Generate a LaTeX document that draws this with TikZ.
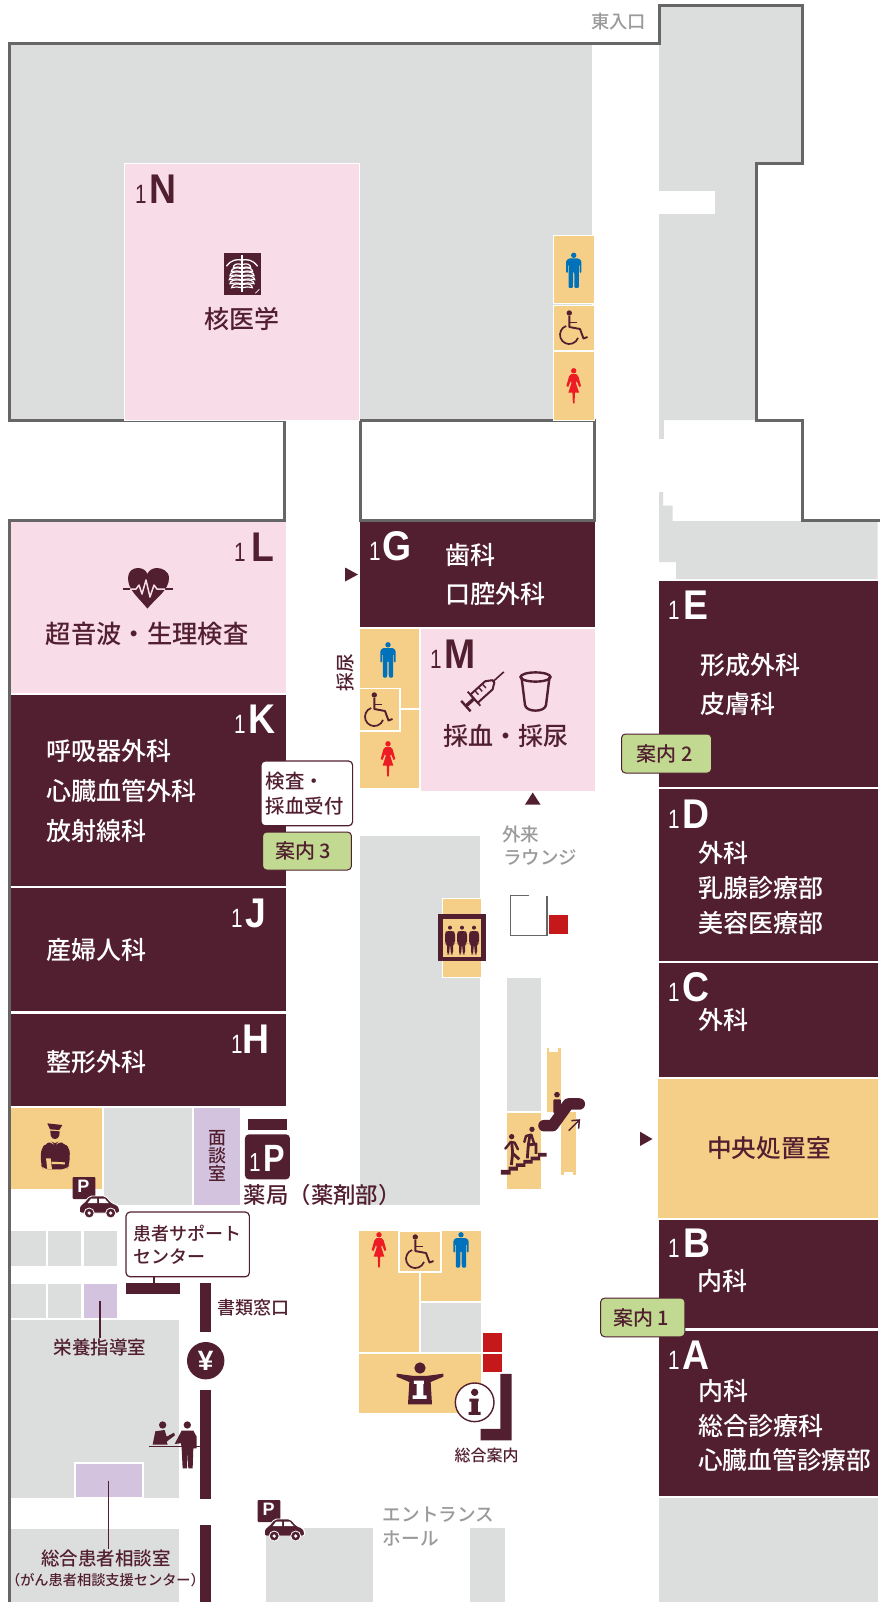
\documentclass[tikz,border=0pt]{standalone}
\usepackage{fontspec}
\usepackage{graphicx}
\setmainfont{Noto Sans CJK JP}
\newfontfamily\jpf{Noto Sans CJK JP Medium}
\newfontfamily\latf{Liberation Sans}
\definecolor{dk}{HTML}{521F30}
\definecolor{gy}{HTML}{DCDEDD}
\definecolor{ol}{HTML}{666666}
\definecolor{pk}{HTML}{F8DCE8}
\definecolor{og}{HTML}{F5CF87}
\definecolor{pu}{HTML}{D3C3DE}
\definecolor{gn}{HTML}{C1D990}
\definecolor{rd}{HTML}{C4181B}
\definecolor{tg}{HTML}{9A9A9A}
\definecolor{mb}{HTML}{0072BC}
\definecolor{wr}{HTML}{ED1C24}
\tikzset{
  tx/.style={font=\jpf\fontsize{#1}{#1}\selectfont,inner sep=0pt,anchor=west,xshift=-1pt},
  tc/.style={anchor=center,xshift=1pt},
  wt/.style={tx=#1,text=white},
  dt/.style={tx=#1,text=dk},
  gt/.style={tx=#1,text=tg},
  rm/.style={fill=#1,draw=white,line width=1pt},
  flat/.style={fill=#1},
  wallline/.style={draw=ol,line width=3pt,line join=miter},
  tag/.style={fill=gn,draw=dk,line width=1pt,rounded corners=4pt},
  call/.style={fill=white,draw=dk,line width=1.2pt,rounded corners=4pt},
  man/.pic={
    \fill[mb] (0,-15.2) circle (2.7);
    \fill[mb,rounded corners=1pt] (-5,-12)--(5,-12)--(7.7,-9.5)--(7.7,2.5)--(5.9,2.5)--(5.9,-6)--(5.2,-6)--(5.2,17.5)--(0.8,17.5)--(0.5,1)--(-0.5,1)--(-0.8,17.5)--(-5.2,17.5)--(-5.2,-6)--(-5.9,-6)--(-5.9,2.5)--(-7.7,2.5)--(-7.7,-9.5)--cycle;
  },
  woman/.pic={
    \fill[wr] (0,-15.2) circle (2.7);
    \fill[wr] (-2.5,-12)--(2.5,-12)--(4.7,-9.5)--(7.3,0)--(5.5,1)--(3,-5)--(2.2,-3)--(5.3,6.5)--(1.3,6.5)--(0.8,17.3)--(-0.8,17.3)--(-1.3,6.5)--(-5.3,6.5)--(-2.2,-3)--(-3,-5)--(-5.5,1)--(-7.3,0)--(-4.7,-9.5)--cycle;
  },
  wheel/.pic={
    \fill[dk] (-4.7,-15) circle (2.7);
    \draw[dk,line width=1.7pt] (-7.9,-2) arc[start angle=250,end angle=20,radius=9.3];
    \draw[dk,line width=1.9pt,line join=round] (-4.7,-12)--(-4.7,-1)--(6,1)--(9.5,10.5)--(13.5,9);
    \draw[dk,line width=1.6pt] (-4.7,-5.5)--(3,-5.5);
  },
  pkcar/.pic={
    \fill[dk,rounded corners=1pt] (0,0) rectangle (22.6,22);
    \node[inner sep=0pt,text=white,font=\latf\bfseries\fontsize{18}{18}\selectfont] at (10.8,9.5) {P};
    \fill[dk,draw=white,line width=.9pt,rounded corners=2pt] (6.6,36)--(6.6,29)--(11,26)--(17,19)--(33,19)--(39,26)--(45,28)--(46.8,31)--(46.8,36)--cycle;
    \fill[white] (18.5,21.5)--(24.5,21.5)--(24.5,26)--(15,26)--cycle (26.5,21.5)--(32,21.5)--(36,26)--(26.5,26)--cycle;
    \foreach \cx in {16.5,38}{\fill[dk,draw=white,line width=.8pt] (\cx,36) circle (5);\fill[white] (\cx,36) circle (1.8);}
  },
  elevp/.pic={
    \fill[dk] (0,0) circle (6);
    \fill[dk,rounded corners=2.5pt] (-15,14)--(-8,10)--(8,10)--(15,14)--(15,48)--(9,48)--(9,80)--(2,80)--(1,50)--(-1,50)--(-2,80)--(-9,80)--(-9,48)--(-15,48)--cycle;
  },
}
\newcommand\zone[6]{%
  \node[inner sep=0pt,anchor=base west,text=#6,font=\latf\fontsize{26.5}{26.5}\selectfont] (#1a) at (#2-2,#4) {\scalebox{.78}[1]{1}};
  \node[inner sep=0pt,anchor=base west,text=#6,font=\latf\bfseries\fontsize{41.5}{41.5}\selectfont] (#1b) at (#3-2.6,#4) {\scalebox{.9}[1]{#5}};
}
\begin{document}
\begin{tikzpicture}[x=1pt,y=-1pt]
\useasboundingbox (0,0) rectangle (882,1602);
\fill[white] (0,0) rectangle (882,1602);
% ---- grey zones
\fill[gy] (10,45) rectangle (592,420);
\fill[gy] (659,7) rectangle (801,163) (659,163) rectangle (756,420);
\fill[white] (659,191) rectangle (715,214);
\fill[gy] (659,420) rectangle (663.5,439);
\fill[gy] (659,492) rectangle (663,522) (659,505.5) rectangle (672.6,522);
\fill[gy] (659,521) rectangle (877.5,562) (676,562) rectangle (877.5,579);
\fill[gy] (359.5,836) rectangle (480,1205);
\fill[gy] (506.7,977.7) rectangle (540.7,1110.7);
\fill[gy] (659,1498) rectangle (877.5,1602);
\fill[gy] (104,1108) rectangle (191.7,1205);
\foreach \xa/\xb in {11/46,48/81,84/117}{\fill[gy] (\xa,1231) rectangle (\xb,1266);}
\foreach \xa/\xb in {11/46,48/81}{\fill[gy] (\xa,1284) rectangle (\xb,1318);}
\fill[gy] (11,1320) rectangle (178.7,1498);
\fill[gy] (11,1528.7) rectangle (178.7,1602);
\fill[gy] (266,1528) rectangle (373,1602);
\fill[gy] (470,1528) rectangle (505,1602);
% ---- walls
\draw[wallline] (9,1602)--(9,520)--(284.6,520)--(284.6,420.6)--(9,420.6)--(9,44)--(659,44)--(659,6)--(802,6)--(802,163.5)--(756,163.5)--(756,420.6)--(802,420.6)--(802,520)--(880,520);
\draw[wallline] (360,420.6) rectangle (594,520);
% ---- coloured rooms
\path[rm=pk] (124,163.6) rectangle (359,420);
\path[rm=og] (553.5,235.5) rectangle (594,304);
\path[rm=og] (553.5,305.5) rectangle (594,350.5);
\path[rm=og] (553.5,351.6) rectangle (594,420);
\path[flat=pk] (10.5,522) rectangle (285.5,693);
\path[flat=dk] (10.5,695) rectangle (285.5,886);
\path[flat=dk] (10.5,888) rectangle (285.5,1011);
\path[flat=dk] (10.5,1013.6) rectangle (285.5,1106);
\path[flat=dk] (359.5,521.5) rectangle (594.5,627);
\path[flat=og] (359.5,629) rectangle (419,788);
\path[rm=og,line width=1.8pt] (359,688.5) rectangle (400,731);
\draw[white,line width=1.6pt] (400,709)--(419.5,709);
\path[flat=pk] (420.7,629) rectangle (594.5,790.7);
\path[flat=dk] (659,581) rectangle (877.5,787);
\path[flat=dk] (659,789) rectangle (877.5,961);
\path[flat=dk] (659,963) rectangle (877.5,1077);
\path[flat=og] (658,1079) rectangle (877.5,1218);
\path[flat=dk] (659,1220) rectangle (877.5,1328);
\path[flat=dk] (659,1330.5) rectangle (877.5,1496);
% elevator
\path[rm=og] (442.6,898.6) rectangle (481,977);
\fill[dk] (438,914) rectangle (485.7,961);
\fill[og] (442.7,918.7) rectangle (481.3,957.3);
\begin{scope}[shift={(420,880)},x=.3333pt,y=-.3333pt]
  \foreach \px in {90,126,162}{\pic at (\px,143) {elevp};}
  \draw[ol,line width=1.2pt] (327,47)--(271,47)--(271,167)--(381,167)--(381,47);
  \fill[rd] (388,105) rectangle (444,161);
  % stairs and escalator areas
  \fill[og] (260,698) rectangle (362,926);
  \fill[og] (380,505) rectangle (423,695);
  \fill[white] (388,505) rectangle (415,515);
  \fill[og] (424,695) rectangle (467,885);
  \fill[white] (432,875) rectangle (458,885);
  % stairs
  \fill[dk] (243,870)--(266,870)--(266,860)--(288,860)--(288,850)--(310,850)--(310,840)--(332,840)--(332,830)--(354,830)--(354,819)--(380,819)--(380,830)--(360,830)--(360,841)--(338,841)--(338,851)--(316,851)--(316,861)--(294,861)--(294,872)--(272,872)--(272,884)--(243,884)--cycle;
  \fill[dk] (275,770) circle (8);
  \draw[dk,line width=2.4pt,line join=round,line cap=round] (256,806)--(272,786)--(284,788)--(294,808);
  \draw[dk,line width=2.8pt,line join=round] (274,855)--(278,820)--(275,785) (278,820)--(298,838);
  \fill[dk] (336,748) circle (8);
  \draw[dk,line width=2.4pt,line join=round,line cap=round] (313,786)--(318,768)--(334,764)--(342,790);
  \draw[dk,line width=2.8pt,line join=round] (322,835)--(325,795)--(330,765) (325,795)--(348,792)--(348,822);
  % escalator
  \draw[dk,line width=11.5pt,line cap=round,line join=round] (372,737)--(398,737)--(445,672)--(478,672);
  \fill[dk] (411,644) circle (8.5);
  \fill[dk,rounded corners=1pt] (400,658) rectangle (423,700);
  \draw[dk,line width=1.5pt] (446,752)--(478,720) (454,722)--(478,720)--(476,746);
\end{scope}
% ---- pharmacy / left lower area (coordinates of a 3x crop)
\begin{scope}[shift={(0,1090)},x=.3333pt,y=-.3333pt]
  \path[flat=og] (33,55) rectangle (306,298);
  \path[flat=pu] (582,55) rectangle (720,345);
  \fill[dk] (743,88) rectangle (860,120);
  \fill[dk,rounded corners=4pt] (735,133) rectangle (870,268);
  \path[flat=pu] (251,582) rectangle (350,684);
  \path[rm=pu,line width=1.8pt] (226,1120) rectangle (429,1225);
  \fill[dk] (600,580) rectangle (634,725);
  \fill[dk] (600,901) rectangle (634,1226);
  \fill[dk] (600,1305) rectangle (634,1536);
  \coordinate (barTop) at (462,580);
  \fill[dk] (378,580) rectangle (540,611);
  % guard
  \fill[dk] (142,100)--(187,105)--(178,120)--(150,118)--cycle;
  \fill[dk] (151,122)--(179,124)--(178,136)..controls (175,151) and (155,151) .. (152,136)--cycle;
  \fill[dk,rounded corners=5pt] (123,175)--(140,160)--(155,155)--(165,166)--(175,155)--(192,160)--(210,175)--(208,225)--(200,238)--(130,238)--(123,225)--cycle;
  \fill[og] (138,205)--(152,205)--(156,238)--(142,238)--cycle;
  \fill[og] (155,215)--(195,217)--(195,223)--(155,222)--cycle;
  % desk people
  \fill[dk] (488,1005) circle (11);
  \fill[dk] (466,1024)--(494,1020)--(500,1040)--(522,1028)--(525,1036)--(500,1055)--(503,1064)--(458,1064)--cycle;
  \fill[dk] (562,1005) circle (11);
  \fill[dk] (545,1022)--(580,1022)--(590,1040)--(590,1075)--(580,1075)--(578,1135)--(565,1135)--(563,1085)--(561,1135)--(548,1135)--(545,1075)--(543,1060)--(524,1062)--cycle;
  \draw[dk,line width=1.4pt] (447,1070)--(602,1070);
\end{scope}
% ---- toilets near entrance (coordinates of a 3x crop)
\begin{scope}[shift={(340,1200)},x=.3333pt,y=-.3333pt]
  \fill[og] (58,94) rectangle (236,456);
  \fill[og] (243,94) rectangle (422,302);
  \fill[gy] (243,308) rectangle (422,456);
  \fill[og] (58,461) rectangle (422,638);
  \path[rm=og,line width=1.8pt] (177,92) rectangle (302,216);
  \fill[rd] (430,400) rectangle (485,455);
  \fill[rd] (430,462) rectangle (485,517);
  \fill[dk] (481,522)--(515,522)--(515,721)--(422,721)--(422,687)--(481,687)--cycle;
  % info person
  \fill[dk] (240,504) circle (17);
  \fill[dk] (170,521)--(222,528)--(258,528)--(310,521)--(310,530)--(272,546)--(276,613)--(204,613)--(208,546)--(170,530)--cycle;
  \fill[white] (222,542) rectangle (252,552) (230,542) rectangle (250,590) (218,586) rectangle (260,597);
  % info mark
  \fill[white,draw=dk,line width=1.4pt] (404,607) circle (58);
  \fill[dk] (404,577) circle (11);
  \fill[dk] (388,596) rectangle (416,605) (394,596) rectangle (414,640) (386,636) rectangle (422,645);
\end{scope}
% ---- connector-free marks
\fill[dk] (345,567.5)--(358,574.5)--(345,581.5)--cycle;
\fill[dk] (525,804.6)--(532.7,792.5)--(540.5,804.6)--cycle;
\fill[dk] (640,1131.7)--(652.5,1139)--(640,1146)--cycle;
% ---- icons
\pic at (573.7,270.5) {man};
\pic at (574,328) {wheel};
\pic at (573.7,386) {woman};
\pic at (388,660) {man};
\pic at (379,710) {wheel};
\pic at (388,759) {woman};
\pic at (379,1250) {woman};
\pic at (420,1252) {wheel};
\pic at (461,1250) {man};
\pic at (72.7,1177) {pkcar};
\pic at (257.7,1500) {pkcar};
% x-ray
\fill[dk] (224,253.5) rectangle (260.5,295);
\begin{scope}[shift={(200,240)},x=.3333pt,y=-.3333pt]
  \draw[white,line width=1.4pt] (126,45)--(126,155);
  \draw[white,line width=1.3pt,line cap=round] (80,78)..controls (95,58) and (110,58) ..(126,60)..controls (142,58) and (157,58) ..(172,78);
  \foreach \Y/\H in {74/26,86/32,98/36,110/38,122/36,134/31}{
    \draw[white,line width=1.2pt] (126,\Y)..controls (126-.6*\H,\Y-6) and (126-\H,\Y) ..(126-\H,\Y+9)..controls (126-.6*\H,\Y+6) and (126-.3*\H,\Y+7) .. (126,\Y+9);
    \draw[white,line width=1.2pt] (126,\Y)..controls (126+.6*\H,\Y-6) and (126+\H,\Y) ..(126+\H,\Y+9)..controls (126+.6*\H,\Y+6) and (126+.3*\H,\Y+7) .. (126,\Y+9);
  }
  \draw[white,line width=.7pt] (166,160)--(178,148);
\end{scope}
% heart
\path[fill=dk] (147.4,608.6) .. controls (138,597) and (128,590) .. (128,578) .. controls (128,571) and (133,568) .. (138,568) .. controls (142,568) and (146,570) .. (147.4,574) .. controls (149,570) and (153,568) .. (157,568) .. controls (162,568) and (169,571) .. (169,578) .. controls (169,590) and (157,597) .. (147.4,608.6);
\draw[dk,line width=1.2pt] (122.6,589)--(132,589) (163,589)--(173,589);
\draw[pk,line width=1.5pt,line join=round] (130,589)--(136,589)--(139,585)--(142,594)--(146,580)--(150,597)--(154,585)--(157,589)--(165,589);
% syringe
\begin{scope}[shift={(483.7,690)},rotate=42]
  \draw[dk,line width=1.6pt] (12,0)--(27,0);
  \draw[dk,line width=2pt,line join=round] (-13,-5.5)--(7,-5.5)--(13,-1.5)--(13,1.5)--(7,5.5)--(-13,5.5)--cycle;
  \draw[dk,line width=1.8pt] (-13,-9.5)--(-13,9.5);
  \draw[dk,line width=1.4pt] (-7,-5)--(-7,0) (-2,-5)--(-2,0) (3,-5)--(3,0);
  \draw[dk,line width=3.4pt] (-24,0)--(-13,0);
  \draw[dk,line width=2.4pt] (-24,-7)--(-24,7);
\end{scope}
% cup
\draw[dk,line width=2.4pt,line join=round] (521.5,677)--(525,705) .. controls (526,712.5) and (545,712.5) .. (546,705)--(549.5,677);
\draw[dk,line width=2.4pt] (535.5,677) ellipse[x radius=15,y radius=4.6];
% ---- yen
\node[circle,fill=dk,minimum size=37.4pt,inner sep=0pt,text=white,font=\latf\bfseries\fontsize{28}{28}\selectfont] (yen) at (205.7,1360.7) {¥};
% ---- callouts and lines
\node[call,minimum width=123.3pt,minimum height=64.7pt,inner sep=0pt] (supbox) at (187.7,1244.4) {};
\draw[dk,line width=1.2pt] (supbox.south -| barTop) -- (barTop);
\node[call,minimum width=91.6pt,minimum height=64.7pt,inner sep=0pt] (kensa) at (306.8,793.4) {};
\node[tag,minimum width=88.9pt,minimum height=38pt,inner sep=0pt] (an3) at (307,851) {};
\node[tag,minimum width=90pt,minimum height=39pt,inner sep=0pt] (an2) at (666.5,753.5) {};
\node[tag,minimum width=84.3pt,minimum height=38.7pt,inner sep=0pt] (an1) at (642.8,1317.4) {};
% ---- text labels
\node[gt=18.3] (t1) at (592,21.7) {東入口};
\zone{zN}{137}{152}{204}{N}{dk}
\node[dt=25,tc] (t2) at (242,319) {核医学};
\zone{zL}{236}{254}{561}{L}{dk}
\node[dt=25.3] (t3) at (46.7,633.6) {超音波・生理検査};
\zone{zK}{236}{251}{733.6}{K}{white}
\node[wt=25] (t4) at (47,751.4) {呼吸器外科};
\node[wt=25] (t5) at (47,791.4) {心臓血管外科};
\node[wt=25] (t6) at (47,830.7) {放射線科};
\zone{zJ}{233}{247.5}{927}{J}{white}
\node[wt=25] (t7) at (47,950) {産婦人科};
\zone{zH}{233}{245}{1053}{H}{white}
\node[wt=25] (t8) at (47,1061.8) {整形外科};
\zone{zG}{371}{385}{560}{G}{white}
\node[wt=25] (t9) at (446,554.6) {歯科};
\node[wt=25] (t10) at (446,594) {口腔外科};
\node[dt=18.7,tc,rotate=90] (t11) at (345,672.5) {採尿};
\zone{zM}{432}{447}{668}{M}{dk}
\node[dt=25] (t12) at (444,736) {採血・採尿};
\node[gt=18.5] (t13) at (503,834) {外来};
\node[gt=18.5] (t14) at (504,857) {ラウンジ};
\node[dt=19.4] (t15) at (266.6,781) {検査・};
\node[dt=19.4] (t16) at (266.6,806.4) {採血受付};
\node[dt=20,tc] (t17) at (303,850.7) {案内 3};
\node[dt=20,tc] (t18) at (664.5,754) {案内 2};
\node[dt=20,tc] (t19) at (641,1318) {案内 1};
\zone{zE}{670}{686}{619}{E}{white}
\node[wt=25] (t20) at (701.4,664.6) {形成外科};
\node[wt=25] (t21) at (701.4,704) {皮膚科};
\zone{zD}{670}{685}{828}{D}{white}
\node[wt=25] (t22) at (699,853) {外科};
\node[wt=25] (t23) at (699,888) {乳腺診療部};
\node[wt=25] (t24) at (699,922.5) {美容医療部};
\zone{zC}{670}{685}{1001}{C}{white}
\node[wt=25] (t25) at (699,1020) {外科};
\node[dt=24.7,tc] (t26) at (769,1148) {中央処置室};
\zone{zB}{670}{686}{1257.7}{B}{white}
\node[wt=25] (t27) at (698,1281) {内科};
\zone{zA}{670}{685}{1369}{A}{white}
\node[wt=25] (t28) at (699,1390.7) {内科};
\node[wt=25] (t29) at (699,1425.7) {総合診療科};
\node[wt=24.7] (t30) at (699,1460) {心臓血管診療部};
\node[inner sep=0pt,anchor=base west,text=white,font=\latf\fontsize{26}{26}\selectfont] (pa) at (249,1171) {\scalebox{.8}[1]{1}};
\node[inner sep=0pt,anchor=base west,text=white,font=\latf\bfseries\fontsize{38}{38}\selectfont] (pb) at (263,1171) {\scalebox{.85}[1]{P}};
\node[dt=22.4] (t31) at (244.6,1195) {薬局（薬剤部）};
\node[dt=18,align=center,tc,font=\jpf\fontsize{18}{18}\selectfont] (t32) at (217,1156) {面\\談\\室};
\node[dt=18] (t33) at (134,1233.3) {患者サポート};
\node[dt=18] (t34) at (134,1256.7) {センター};
\node[dt=18,tc] (t35) at (253.5,1307.7) {書類窓口};
\node[dt=18.5,tc] (t36) at (100,1347) {栄養指導室};
\node[dt=18.5,tc] (t37) at (106,1558) {総合患者相談室};
\node[dt=14.2,tc] (t38) at (105.5,1580) {（がん患者相談支援センター）};
\node[dt=16,tc] (t39) at (486.7,1455) {総合案内};
\node[gt=18.6] (t40) at (383.6,1515) {エントランス};
\node[gt=18.6] (t41) at (383.6,1538.3) {ホール};
% leader lines
\coordinate (eiyou) at (100,1301);
\coordinate (soudan) at (108.7,1480.7);
\draw[dk,line width=1.1pt] (eiyou) -- (eiyou |- t36.north);
\draw[dk,line width=1.1pt] (soudan) -- (soudan |- t37.north);
\end{tikzpicture}
\end{document}
